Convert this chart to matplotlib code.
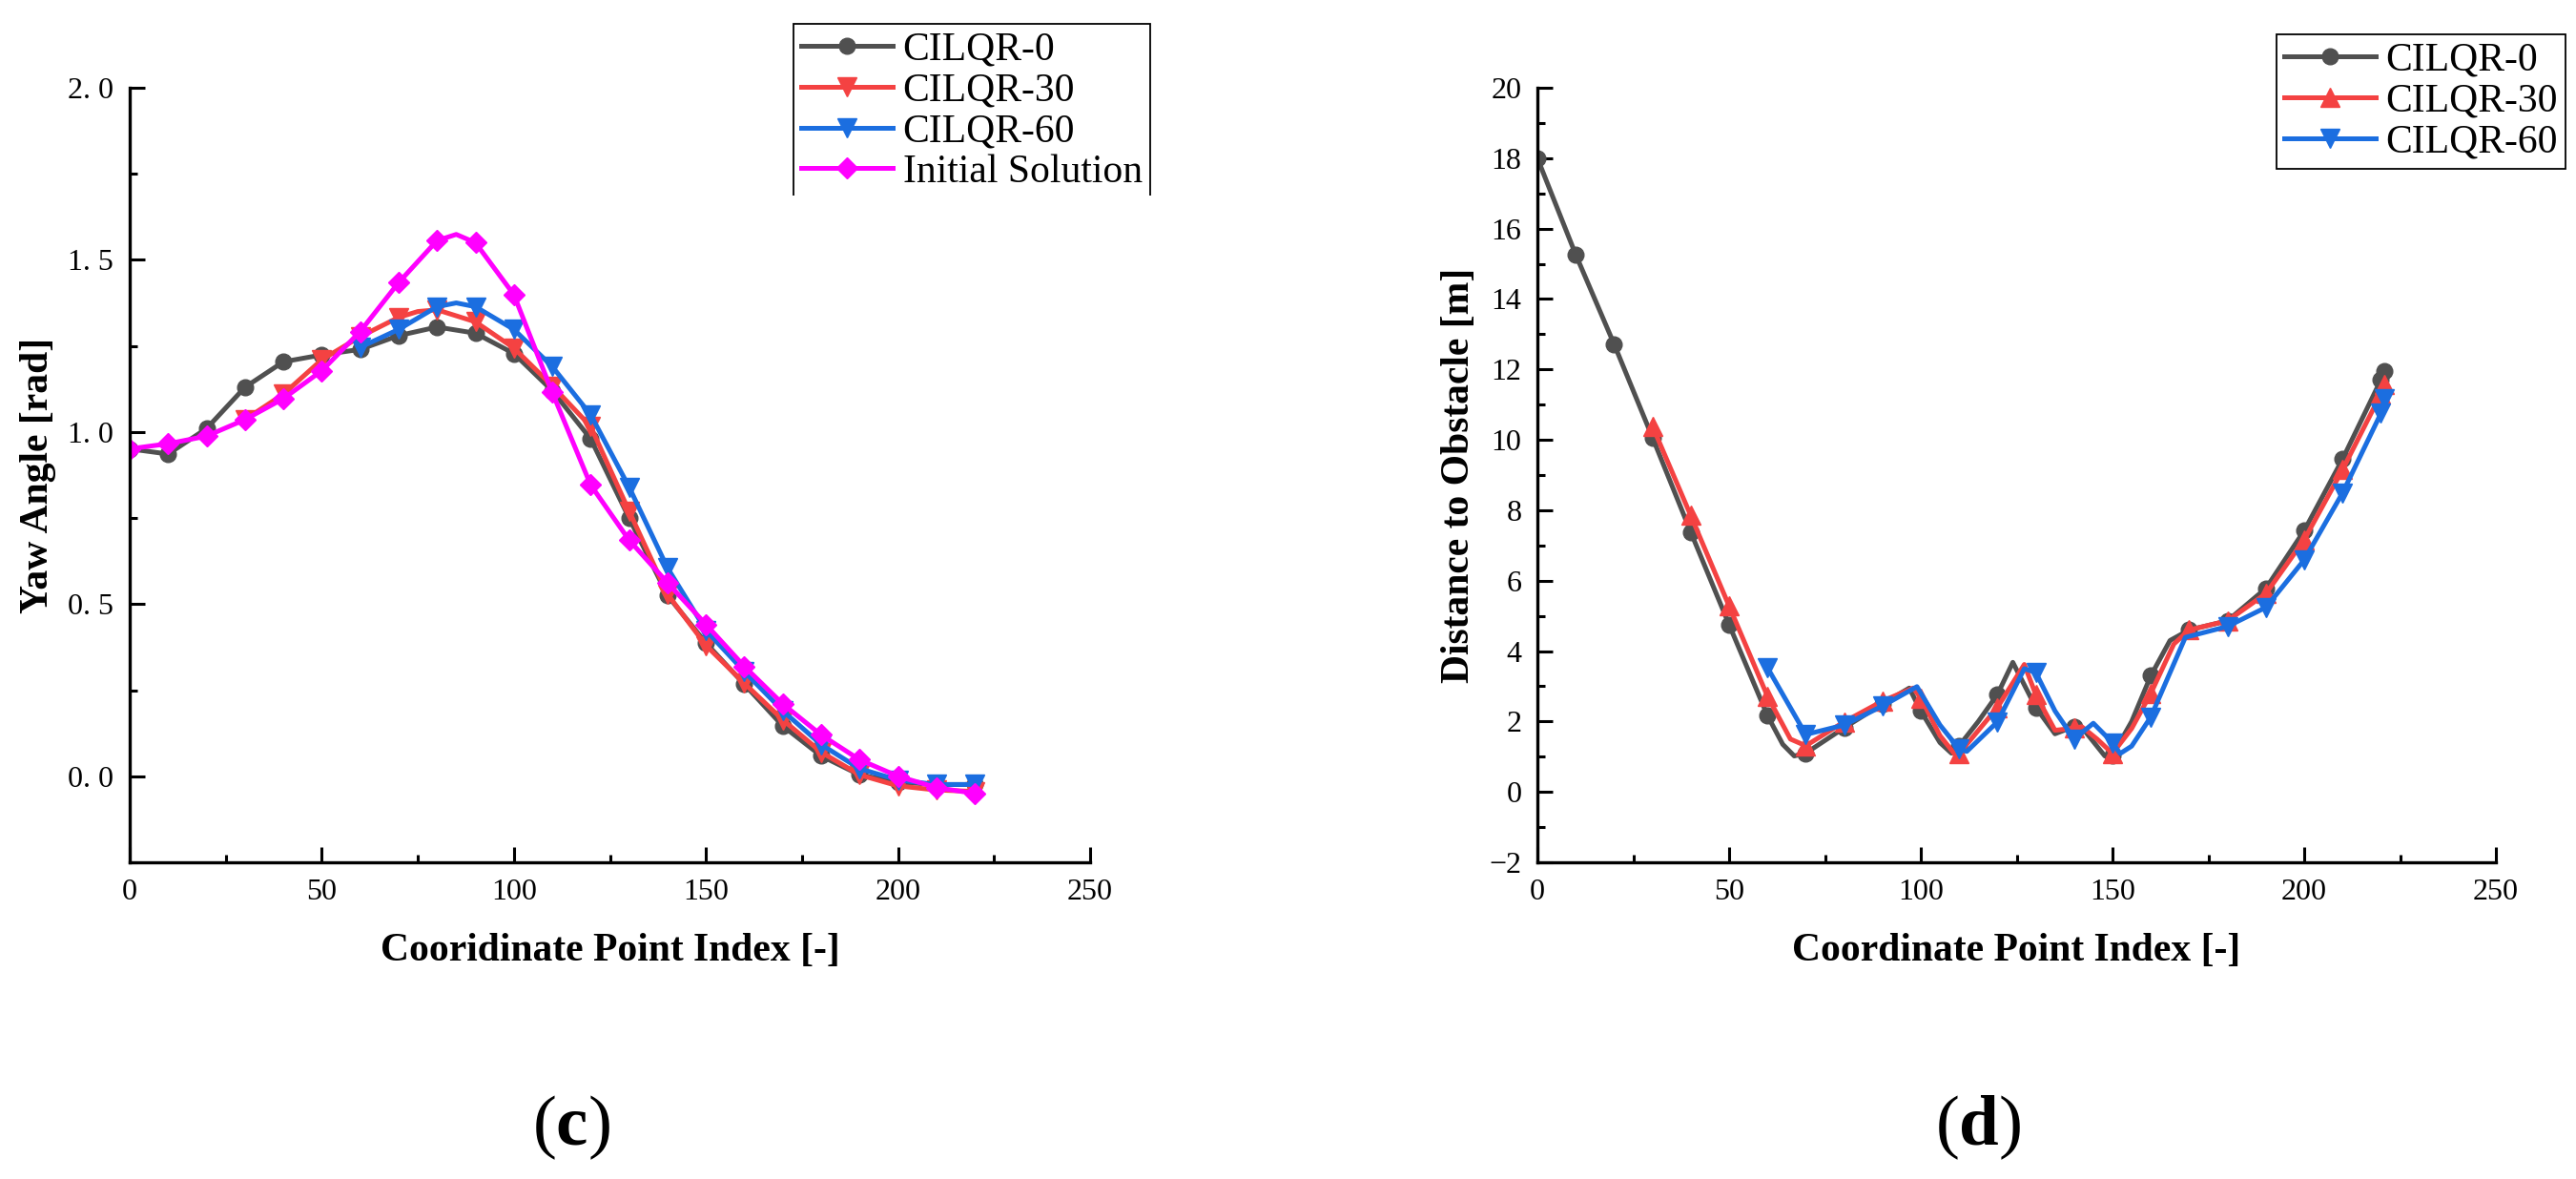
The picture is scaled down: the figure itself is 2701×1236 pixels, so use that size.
import matplotlib
matplotlib.use("Agg")
import matplotlib.pyplot as plt
from matplotlib.ticker import MultipleLocator, FuncFormatter
from matplotlib.transforms import Bbox

plt.rcParams['font.family'] = ['Liberation Serif', 'DejaVu Serif']
plt.rcParams['mathtext.fontset'] = 'custom'
plt.rcParams['mathtext.rm'] = 'Liberation Serif'
plt.rcParams['mathtext.bf'] = 'Liberation Serif:bold'

# (c) yaw angle
yaw_x_0 = [0, 10, 20, 30, 40, 50, 60, 70, 80, 90, 100, 110, 120, 130, 140, 150, 160, 170, 180, 190, 200, 210, 220]
yaw_cilqr0 = [0.951, 0.936, 1.01, 1.13, 1.204, 1.224, 1.24, 1.28, 1.305, 1.287, 1.228, 1.12, 0.98, 0.75,
              0.525, 0.387, 0.267, 0.146, 0.059, 0.004, -0.017, -0.024, -0.024]
yaw_x_30 = [30, 40, 50, 60, 70, 75, 80, 90, 100, 110, 120, 130, 140, 150, 160, 170, 180, 190, 200, 210, 220]
yaw_cilqr30 = [1.036, 1.11, 1.21, 1.277, 1.333, 1.35, 1.355, 1.32, 1.244, 1.134, 1.016, 0.77,
               0.529, 0.38, 0.27, 0.164, 0.07, 0.004, -0.028, -0.04, -0.044]
yaw_x_60 = [60, 70, 80, 85, 90, 100, 110, 120, 130, 140, 150, 160, 170, 180, 190, 200, 210, 220]
yaw_cilqr60 = [1.246, 1.298, 1.364, 1.375, 1.364, 1.298, 1.19, 1.05, 0.84,
               0.605, 0.424, 0.304, 0.19, 0.092, 0.022, -0.011, -0.024, -0.024]
yaw_x_init = [0, 10, 20, 30, 40, 50, 60, 70, 80, 85, 90, 100, 110, 120, 130, 140, 150, 160, 170, 180, 190, 200, 210, 220]
yaw_init = [0.951, 0.966, 0.988, 1.036, 1.097, 1.178, 1.292, 1.434, 1.556, 1.574, 1.55, 1.399, 1.115, 0.846, 0.686,
            0.562, 0.441, 0.319, 0.21, 0.12, 0.048, 0.0, -0.033, -0.05]

# (d) distance to obstacle
dist_x_0 = [0, 10, 20, 30, 40, 50, 60, 64, 67, 70, 80, 90, 97, 100, 105, 108, 110, 115, 120, 124, 130, 135,
            140, 143, 148, 150, 155, 160, 165, 170, 180, 190, 200, 210, 220, 221]
dist_cilqr0 = [18.0, 15.26, 12.72, 10.07, 7.38, 4.75, 2.17, 1.35, 1.02, 1.1, 1.82, 2.5, 2.95, 2.3, 1.4, 1.1, 1.31,
               2.0, 2.77, 3.68, 2.4, 1.65, 1.86, 1.7, 1.02, 1.04, 2.0, 3.3, 4.3, 4.6, 4.86, 5.78, 7.42, 9.45, 11.7, 11.95]
dist_x_30 = [30, 40, 50, 60, 66, 70, 80, 90, 98, 100, 105, 109, 110, 120, 127, 130, 135, 140, 142,
             146, 150, 155, 160, 166, 170, 180, 190, 200, 210, 220, 221]
dist_cilqr30 = [10.39, 7.85, 5.28, 2.72, 1.5, 1.31, 1.99, 2.58, 2.95, 2.67, 1.6, 1.05, 1.09,
                2.4, 3.62, 2.76, 1.75, 1.81, 1.85, 1.5, 1.09, 1.8, 2.8, 4.2, 4.6, 4.86, 5.63, 7.16, 9.15, 11.3, 11.58]
dist_x_60 = [60, 70, 80, 90, 99, 105, 110, 112, 120, 127, 130, 135, 140, 145, 150, 152,
             155, 160, 169, 180, 190, 200, 210, 220, 221]
dist_cilqr60 = [3.53, 1.63, 1.9, 2.44, 2.99, 1.9, 1.22, 1.15, 1.99, 3.5,
                3.39, 2.3, 1.5, 1.95, 1.4, 1.09, 1.3, 2.13, 4.39, 4.7, 5.24, 6.59, 8.49, 10.75, 11.18]

GRAY = '#505050'
RED = '#F44242'
BLUE = '#1B6EE0'
MAGENTA = '#FF00FF'

W, H = 2701, 1236
fig = plt.figure(figsize=(W / 100, H / 100), dpi=100)

ax_c = fig.add_axes([136 / W, 1 - 904 / H, 1007 / W, 812 / H])
ax_d = fig.add_axes([1612 / W, 1 - 904 / H, 1005 / W, 812 / H])


def marks(xs):
    return [i for i, v in enumerate(xs) if v % 10 == 0 or v == 221]


def style_axes(ax):
    for s in ['top', 'right']:
        ax.spines[s].set_visible(False)
    for s in ['left', 'bottom']:
        ax.spines[s].set_linewidth(2.4)
    ax.tick_params(which='major', direction='in', length=11.5, width=2.2, labelsize=23, pad=12)
    ax.tick_params(which='minor', direction='in', length=5.8, width=2.2)
    ax.set_xlim(0, 250)
    ax.xaxis.set_major_locator(MultipleLocator(50))
    ax.xaxis.set_minor_locator(MultipleLocator(25))


lw = 3.6
# panel (c)
ax_c.plot(yaw_x_0, yaw_cilqr0, color=GRAY, lw=lw, marker='o', ms=12, markevery=marks(yaw_x_0), label='CILQR-0')
ax_c.plot(yaw_x_30, yaw_cilqr30, color=RED, lw=lw, marker='v', ms=14, markevery=marks(yaw_x_30), label='CILQR-30')
ax_c.plot(yaw_x_60, yaw_cilqr60, color=BLUE, lw=lw, marker='v', ms=14, markevery=marks(yaw_x_60), label='CILQR-60')
ax_c.plot(yaw_x_init, yaw_init, color=MAGENTA, lw=lw, marker='D', ms=11, markevery=marks(yaw_x_init),
          label='Initial Solution')
style_axes(ax_c)
ax_c.set_ylim(-0.25, 2.0)
ax_c.yaxis.set_major_locator(MultipleLocator(0.5))
ax_c.yaxis.set_minor_locator(MultipleLocator(0.25))
ax_c.yaxis.set_major_formatter(FuncFormatter(lambda v, p: f"{v:.1f}".replace('.', '. ')))
ax_c.set_xlabel('Cooridinate Point Index [-]', fontsize=30, fontweight='bold', va='center')
ax_c.set_ylabel('Yaw Angle [rad]', fontsize=30, fontweight='bold', va='center')
ax_c.xaxis.set_label_coords(0.5, -93 / 812)
ax_c.yaxis.set_label_coords(-96 / 1007, 0.5)
ax_c.text(0.46, -278 / 812, '(' + r'$\mathbf{c}$' + ')', transform=ax_c.transAxes, fontsize=54,
          ha='center', va='center')

# panel (d)
ax_d.plot(dist_x_0, dist_cilqr0, color=GRAY, lw=lw, marker='o', ms=12, markevery=marks(dist_x_0), label='CILQR-0')
ax_d.plot(dist_x_30, dist_cilqr30, color=RED, lw=lw, marker='^', ms=14, markevery=marks(dist_x_30),
          label='CILQR-30')
ax_d.plot(dist_x_60, dist_cilqr60, color=BLUE, lw=lw, marker='v', ms=14, markevery=marks(dist_x_60),
          label='CILQR-60')
style_axes(ax_d)
ax_d.set_ylim(-2, 20)
ax_d.yaxis.set_major_locator(MultipleLocator(2))
ax_d.yaxis.set_minor_locator(MultipleLocator(1))
ax_d.set_xlabel('Coordinate Point Index [-]', fontsize=30, fontweight='bold', va='center')
ax_d.set_ylabel('Distance to Obstacle [m]', fontsize=30, fontweight='bold', va='center')
ax_d.xaxis.set_label_coords(0.5, -93 / 812)
ax_d.yaxis.set_label_coords(-82 / 1005, 0.5)
ax_d.text(0.46, -278 / 812, '(' + r'$\mathbf{d}$' + ')', transform=ax_d.transAxes, fontsize=54,
          ha='center', va='center')

leg_kw = dict(fontsize=30, handlelength=2.3, handletextpad=0.25, labelspacing=0.1, borderpad=0.2,
              borderaxespad=0, fancybox=False, edgecolor='black', framealpha=1, loc='upper left',
              bbox_transform=fig.transFigure)
leg_c = ax_c.legend(bbox_to_anchor=(832 / W, 1 - 25 / H), **leg_kw)
leg_d = ax_d.legend(bbox_to_anchor=(2387 / W, 1 - 36 / H), **leg_kw)
for leg in (leg_c, leg_d):
    leg.get_frame().set_linewidth(1.3)

# the legend box of (c) is open at the bottom in the original
fig.canvas.draw()
bb = leg_c.get_frame().get_window_extent()
leg_c.get_frame().set_clip_box(Bbox.from_extents(bb.x0 - 5, bb.y0 + 3, bb.x1 + 5, bb.y1 + 5))
leg_c.get_frame().set_clip_on(True)

fig.savefig('out.png', dpi=100)
